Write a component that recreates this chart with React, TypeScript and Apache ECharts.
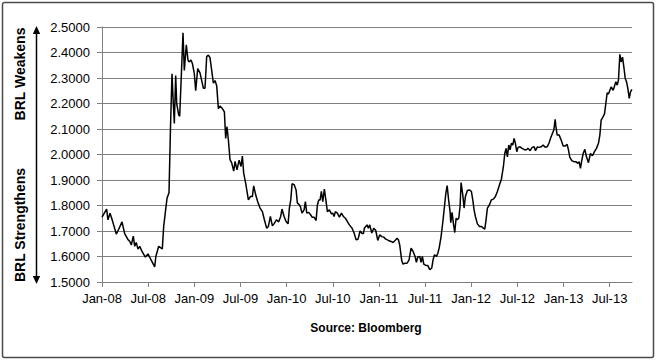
import React, { useEffect, useRef } from "react";
import * as echarts from "echarts";

// x position of each observation, in months since 1 Jan 2008
const monthOffsets: number[] = [
  0.0, 0.3, 0.6, 0.78, 1.04, 1.3, 1.55, 1.86, 2.17, 2.6, 2.95, 3.38, 3.6, 3.81, 4.07, 4.25, 4.45, 4.68, 4.9, 5.2,
  5.63, 5.98, 6.41, 6.85, 7.0, 7.37, 7.84, 8.02, 8.45, 8.71, 8.9, 9.1, 9.27, 9.4, 9.58, 9.71, 9.97, 10.1, 10.3, 10.53,
  10.7, 10.96, 11.18, 11.31, 11.57, 11.75, 12.0, 12.18, 12.44, 12.74, 12.96, 13.18, 13.39, 13.61, 13.83, 14.04, 14.26, 14.48, 14.69, 14.91,
  15.13, 15.34, 15.65, 15.91, 16.08, 16.25, 16.43, 16.64, 16.86, 17.12, 17.3, 17.55, 17.82, 18.07, 18.25, 18.42, 18.68, 19.03, 19.29, 19.55,
  19.72, 19.98, 20.24, 20.55, 20.85, 21.11, 21.41, 21.63, 21.89, 22.15, 22.4, 22.67, 22.97, 23.23, 23.4, 23.67, 23.93, 24.19, 24.36, 24.54,
  24.71, 24.97, 25.23, 25.4, 25.58, 25.79, 26.0, 26.27, 26.44, 26.62, 26.88, 27.14, 27.31, 27.57, 27.83, 28.0, 28.18, 28.35, 28.52, 28.7,
  28.91, 29.13, 29.3, 29.56, 29.82, 30.0, 30.17, 30.34, 30.6, 30.86, 31.12, 31.38, 31.64, 31.9, 32.16, 32.51, 32.77, 33.03, 33.29, 33.55,
  33.81, 33.98, 34.11, 34.29, 34.46, 34.63, 34.81, 35.07, 35.33, 35.59, 35.85, 36.11, 36.37, 36.63, 36.89, 37.23, 37.58, 37.84, 38.1, 38.36,
  38.53, 38.7, 38.97, 39.14, 39.4, 39.66, 39.92, 40.18, 40.44, 40.7, 40.87, 41.05, 41.31, 41.48, 41.65, 41.83, 42.09, 42.35, 42.61, 42.87,
  43.04, 43.22, 43.48, 43.66, 43.83, 44.08, 44.34, 44.52, 44.7, 44.87, 45.06, 45.25, 45.34, 45.51, 45.68, 45.86, 46.03, 46.2, 46.38, 46.55,
  46.68, 46.9, 47.07, 47.24, 47.5, 47.76, 48.02, 48.2, 48.37, 48.54, 48.8, 49.06, 49.32, 49.58, 49.76, 49.93, 50.1, 50.36, 50.62, 50.88,
  51.14, 51.4, 51.66, 51.92, 52.18, 52.36, 52.53, 52.7, 52.88, 53.05, 53.22, 53.4, 53.57, 53.74, 53.92, 54.09, 54.35, 54.61, 54.87, 55.13,
  55.4, 55.66, 55.92, 56.18, 56.35, 56.61, 56.83, 57.09, 57.35, 57.61, 57.87, 58.13, 58.3, 58.56, 58.74, 58.91, 59.0, 59.17, 59.43, 59.69,
  59.95, 60.21, 60.47, 60.64, 60.82, 61.08, 61.34, 61.6, 61.86, 62.03, 62.2, 62.38, 62.55, 62.77, 62.98, 63.24, 63.5, 63.76, 64.02, 64.28,
  64.54, 64.72, 64.89, 65.06, 65.32, 65.5, 65.67, 65.84, 66.02, 66.19, 66.45, 66.62, 66.8, 66.97, 67.14, 67.32, 67.49, 67.67, 67.84, 68.02,
  68.19, 68.36, 68.54, 68.71, 68.89,
];

// USD/BRL rate
const usdBrl: number[] = [
  1.754, 1.77, 1.786, 1.744, 1.77, 1.746, 1.72, 1.688, 1.707, 1.736, 1.69, 1.666, 1.66, 1.645, 1.68, 1.64, 1.655, 1.629, 1.64, 1.62,
  1.598, 1.61, 1.585, 1.559, 1.6, 1.64, 1.63, 1.718, 1.828, 1.85, 2.1, 2.317, 2.2, 2.122, 2.31, 2.2, 2.155, 2.15, 2.3, 2.477,
  2.33, 2.43, 2.37, 2.363, 2.37, 2.357, 2.317, 2.25, 2.337, 2.32, 2.29, 2.26, 2.26, 2.384, 2.39, 2.38, 2.33, 2.28, 2.29, 2.27,
  2.18, 2.19, 2.18, 2.167, 2.063, 2.109, 2.057, 1.98, 1.967, 1.935, 1.973, 1.94, 1.978, 1.953, 1.994, 1.927, 1.887, 1.822, 1.835, 1.835,
  1.877, 1.842, 1.815, 1.79, 1.776, 1.744, 1.711, 1.718, 1.757, 1.72, 1.73, 1.744, 1.736, 1.757, 1.786, 1.757, 1.737, 1.728, 1.79, 1.822,
  1.885, 1.882, 1.861, 1.809, 1.805, 1.796, 1.77, 1.783, 1.815, 1.77, 1.773, 1.763, 1.754, 1.754, 1.741, 1.802, 1.822, 1.822, 1.855, 1.815,
  1.864, 1.815, 1.776, 1.783, 1.767, 1.77, 1.757, 1.776, 1.77, 1.754, 1.77, 1.757, 1.75, 1.737, 1.724, 1.711, 1.692, 1.666, 1.668, 1.7,
  1.69, 1.69, 1.711, 1.718, 1.724, 1.711, 1.724, 1.692, 1.711, 1.702, 1.663, 1.685, 1.678, 1.676, 1.668, 1.663, 1.659, 1.655, 1.663, 1.672,
  1.666, 1.646, 1.583, 1.57, 1.574, 1.574, 1.587, 1.633, 1.62, 1.6, 1.577, 1.598, 1.6, 1.577, 1.6, 1.57, 1.565, 1.565, 1.548, 1.555,
  1.587, 1.607, 1.6, 1.613, 1.633, 1.678, 1.744, 1.796, 1.848, 1.878, 1.822, 1.776, 1.733, 1.773, 1.73, 1.694, 1.75, 1.744, 1.75, 1.796,
  1.89, 1.842, 1.79, 1.835, 1.859, 1.861, 1.855, 1.822, 1.783, 1.757, 1.728, 1.718, 1.718, 1.711, 1.707, 1.744, 1.79, 1.802, 1.822, 1.825,
  1.835, 1.855, 1.88, 1.903, 1.952, 2.004, 2.024, 1.991, 2.037, 2.018, 2.044, 2.037, 2.063, 2.044, 2.011, 2.028, 2.03, 2.024, 2.02, 2.018,
  2.024, 2.015, 2.028, 2.03, 2.015, 2.03, 2.028, 2.03, 2.037, 2.028, 2.03, 2.046, 2.063, 2.083, 2.096, 2.138, 2.112, 2.076, 2.076, 2.057,
  2.033, 2.033, 2.04, 2.018, 1.989, 1.976, 1.972, 1.972, 1.965, 1.972, 1.946, 1.978, 2.004, 2.02, 1.991, 1.968, 2.004, 1.995, 2.011, 2.024,
  2.044, 2.076, 2.135, 2.144, 2.158, 2.2, 2.242, 2.237, 2.252, 2.265, 2.252, 2.268, 2.285, 2.272, 2.291, 2.393, 2.363, 2.382, 2.344, 2.298,
  2.285, 2.259, 2.22, 2.246, 2.255,
];

const tickMonths: number[] = [0, 6, 12, 18, 24, 30, 36, 42, 48, 54, 60, 66];
const tickLabels: string[] = [
  "Jan-08", "Jul-08", "Jan-09", "Jul-09", "Jan-10", "Jul-10",
  "Jan-11", "Jul-11", "Jan-12", "Jul-12", "Jan-13", "Jul-13",
];

const FONT = "'Liberation Sans', Arial, sans-serif";

export default function App() {
  const ref = useRef<HTMLDivElement>(null);

  useEffect(() => {
    if (!ref.current) return;
    const chart = echarts.init(ref.current, undefined, { renderer: "svg" });
    const data = monthOffsets.map((m, i) => [m, usdBrl[i]]);
    const gray = "#808080";

    chart.setOption({
      animation: false,
      backgroundColor: "#ffffff",
      textStyle: { fontFamily: FONT },
      grid: { left: 102, right: 25, top: 27, bottom: 79, containLabel: false },
      xAxis: {
        type: "value",
        min: 0,
        max: 68.9,
        interval: 6,
        axisLine: { show: true, lineStyle: { color: gray, width: 1 } },
        axisTick: { show: true, inside: false, length: 5, lineStyle: { color: gray }, customValues: tickMonths },
        splitLine: { show: false },
        axisLabel: {
          customValues: tickMonths,
          margin: 10,
          color: "#000",
          fontSize: 13,
          fontFamily: FONT,
          formatter: (v: number) => {
            const idx = tickMonths.indexOf(Math.round(v));
            return idx >= 0 ? tickLabels[idx] : "";
          },
        },
      },
      yAxis: {
        type: "value",
        min: 1.5,
        max: 2.5,
        interval: 0.1,
        axisLine: { show: true, lineStyle: { color: gray, width: 1 } },
        axisTick: { show: true, length: 5, lineStyle: { color: gray } },
        splitLine: { show: true, lineStyle: { color: gray, width: 1 } },
        axisLabel: {
          margin: 12,
          color: "#000",
          fontSize: 13,
          fontFamily: FONT,
          formatter: (v: number) => v.toFixed(4),
        },
      },
      series: [
        {
          type: "line",
          data,
          showSymbol: false,
          symbol: "none",
          lineStyle: { color: "#000", width: 1.5 },
          z: 5,
        },
      ],
      graphic: [
        {
          type: "rect",
          shape: { x: 2.5, y: 2.5, width: 651, height: 355, r: 2 },
          style: { fill: "none", stroke: "#4a4a4a", lineWidth: 1.5 },
          silent: true,
        },
        {
          type: "line",
          shape: { x1: 36.5, y1: 32, x2: 36.5, y2: 279 },
          style: { stroke: "#000", lineWidth: 1.5 },
        },
        {
          type: "polygon",
          shape: { points: [[36.5, 26], [32.8, 34], [40.2, 34]] },
          style: { fill: "#000" },
        },
        {
          type: "polygon",
          shape: { points: [[36.5, 284], [32.8, 276], [40.2, 276]] },
          style: { fill: "#000" },
        },
        {
          type: "text",
          x: 20,
          y: 74,
          rotation: Math.PI / 2,
          style: {
            text: "BRL Weakens",
            fontFamily: FONT,
            fontWeight: "bold",
            fontSize: 14,
            fill: "#000",
            align: "center",
            verticalAlign: "middle",
          },
        },
        {
          type: "text",
          x: 20,
          y: 225,
          rotation: Math.PI / 2,
          style: {
            text: "BRL Strengthens",
            fontFamily: FONT,
            fontWeight: "bold",
            fontSize: 14,
            fill: "#000",
            align: "center",
            verticalAlign: "middle",
          },
        },
        {
          type: "text",
          x: 366,
          y: 328,
          style: {
            text: "Source: Bloomberg",
            fontFamily: FONT,
            fontWeight: "bold",
            fontSize: 12,
            fill: "#000",
            align: "center",
            verticalAlign: "middle",
          },
        },
      ],
    });

    return () => chart.dispose();
  }, []);

  return <div ref={ref} style={{ width: 657, height: 361, position: "fixed", left: 0, top: 0 }} />;
}
